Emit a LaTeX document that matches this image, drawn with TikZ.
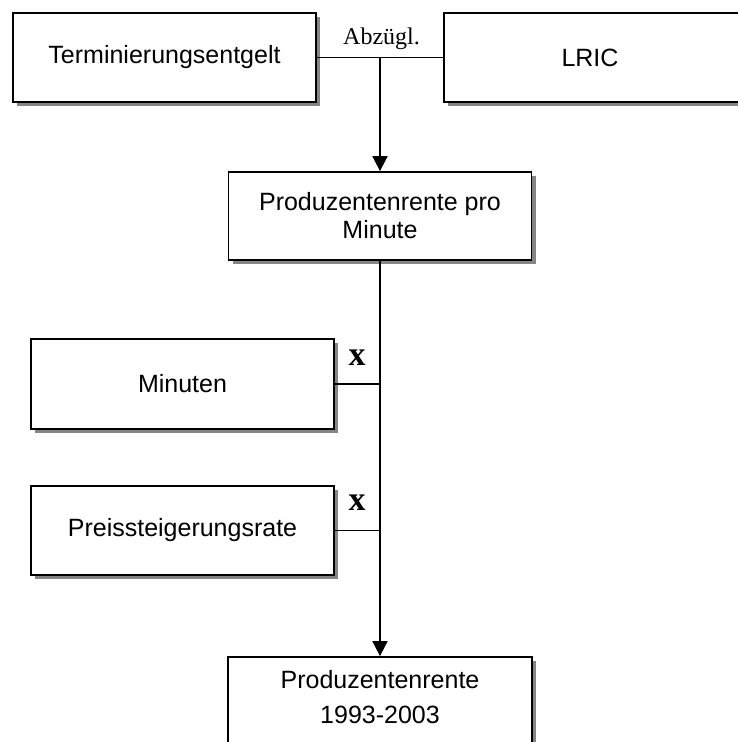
\documentclass[tikz,border=0pt]{standalone}
\usepackage{fontspec}
\setmainfont{Liberation Sans}
\newfontfamily\serifx{Liberation Serif}
\usetikzlibrary{arrows.meta,shadows}
\begin{document}
\begin{tikzpicture}[x=1pt,y=-1pt,
  box/.style={draw=black,line width=1.8pt,fill=white,rectangle,inner sep=0pt,
    minimum width=303pt,align=center,font=\fontsize{25}{28}\selectfont,
    drop shadow={shadow xshift=4pt,shadow yshift=-4pt,fill=black!48,opacity=1}},
  conn/.style={line width=1.8pt,draw=black},
  arr/.style={conn,-{Triangle[length=15pt,width=15pt]}},
  serlab/.style={font=\serifx\fontsize{24}{28}\selectfont,inner sep=0pt,anchor=base},
  xlab/.style={font=\serifx\bfseries\fontsize{34}{36}\selectfont,inner sep=0pt,anchor=base}]
\useasboundingbox (0,0) rectangle (738,742);
\clip (0,0) rectangle (738,742);
\fill[white] (0,0) rectangle (738,742);
\node[box,minimum height=89pt] (term) at (164.5,57.5) {Terminierungsentgelt};
\node[box,minimum height=89pt,minimum width=304pt] (lric) at (596,57.5) {\hspace*{-12pt}LRIC};
\node[box,minimum height=88pt] (ppm) at (380,216) {Produzentenrente pro\\Minute};
\node[box,minimum height=90pt] (min) at (182.5,384) {Minuten};
\node[box,minimum height=89pt] (preis) at (182.5,530.5) {Preissteigerungsrate};
\node[box,minimum height=130pt,minimum width=304pt] (final) at (380,722) {};
\node[font=\fontsize{25}{35}\selectfont,align=center,inner sep=0pt,anchor=base] (finaltext) at (380,723) {Produzentenrente\\1993-2003};
\coordinate (j) at (380,57.5);
\draw[conn] (term.east) -- (lric.west);
\draw[arr] (j) -- (ppm.north);
\draw[arr] (ppm.south) -- (final.north);
\draw[conn] (min.east) -- (min.east -| ppm.south);
\draw[conn] (preis.east) -- (preis.east -| ppm.south);
\node[serlab] (abz) at (381.5,44) {Abzügl.};
\node[xlab] (x1) at (357,365) {x};
\node[xlab] (x2) at (357,510) {x};
\end{tikzpicture}
\end{document}
